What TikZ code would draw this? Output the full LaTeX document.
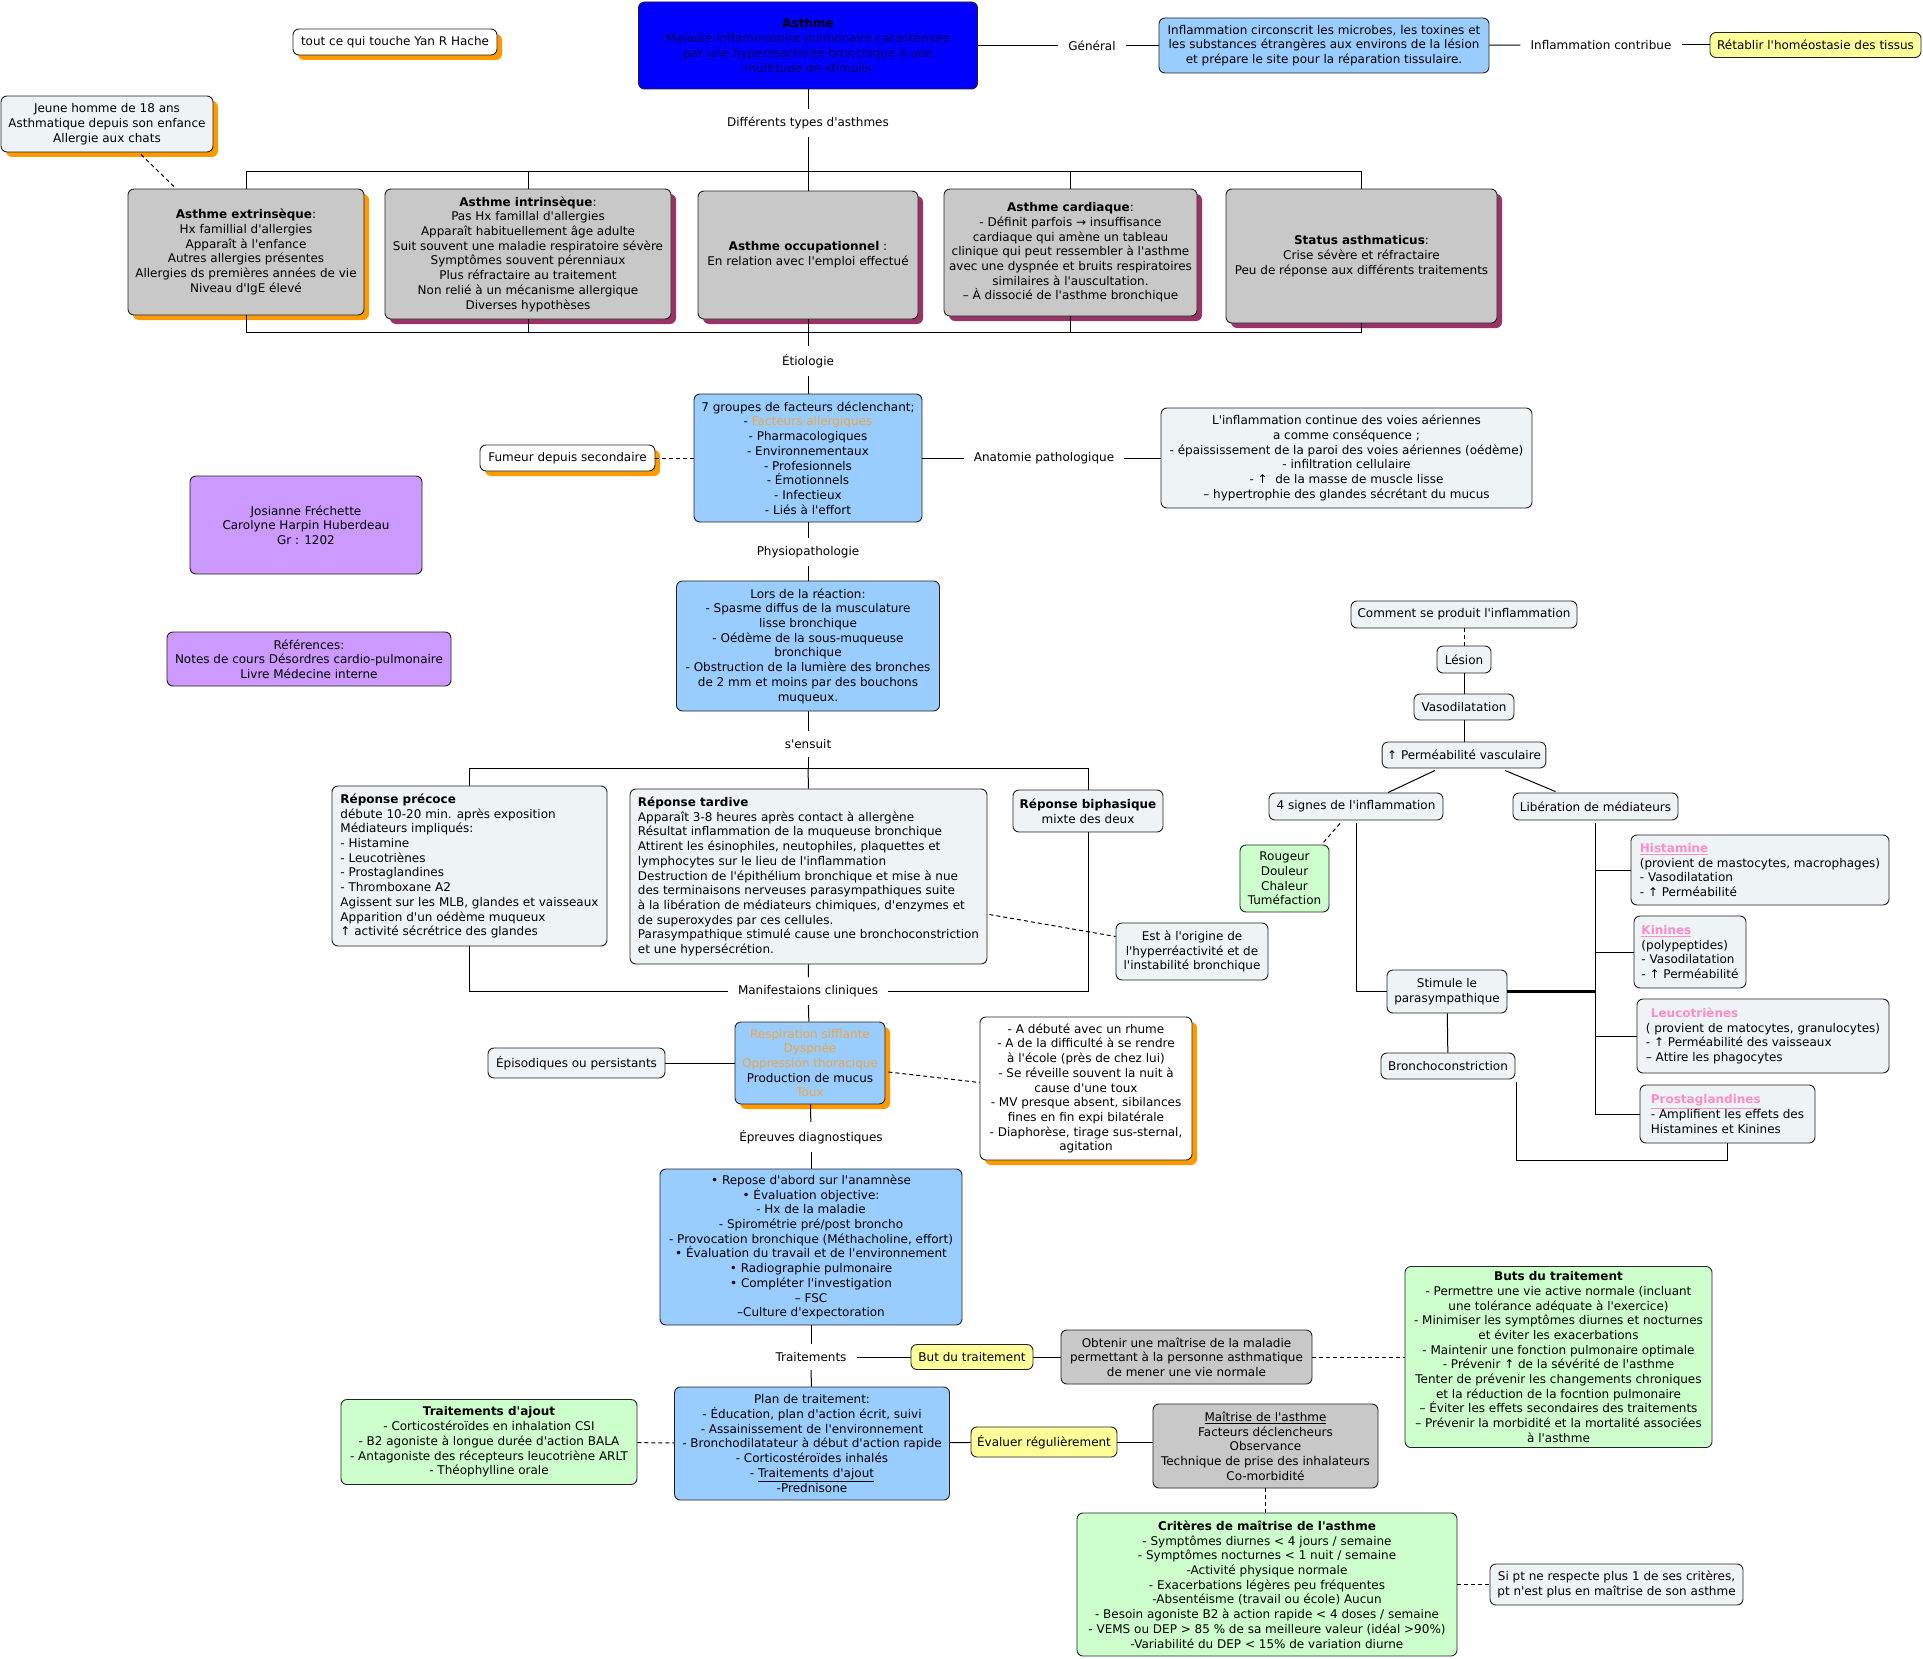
\documentclass[tikz,border=0pt]{standalone}
\usepackage{fontspec}
\setmainfont{DejaVu Sans}[Ligatures=TeXOff]
\usetikzlibrary{shadows,calc}
\definecolor{bluebox}{RGB}{0,0,255}
\definecolor{lblue}{RGB}{153,204,255}
\definecolor{gbox}{RGB}{200,200,200}
\definecolor{pale}{RGB}{238,243,245}
\definecolor{yel}{RGB}{255,255,153}
\definecolor{grn}{RGB}{204,255,204}
\definecolor{purp}{RGB}{204,153,255}
\definecolor{orsh}{RGB}{255,153,0}
\definecolor{push}{RGB}{153,51,102}
\definecolor{ortx}{RGB}{240,165,60}
\definecolor{pktx}{RGB}{255,140,200}
\definecolor{navy}{RGB}{0,0,90}
\definecolor{bord}{RGB}{35,35,35}
\newcommand\fs{\fontsize{12}{14.7}\selectfont}
\newcommand\pk[1]{\textcolor{pktx}{\textbf{\underline{#1}}}}
\newcommand\ot[1]{\textcolor{ortx}{#1}}
\begin{document}
\begin{tikzpicture}[x=1pt,y=-1pt,
  base/.style={font=\fs, align=center, inner sep=5pt},
  box/.style={base, draw=bord, line width=0.9pt, rounded corners=6pt},
  wh/.style 2 args={minimum width=#1pt, minimum height=#2pt},
  lt/.style={align=left},
  osh/.style={drop shadow={shadow xshift=5pt,shadow yshift=-5pt,fill=orsh,opacity=1}},
  psh/.style={drop shadow={shadow xshift=5pt,shadow yshift=-5pt,fill=push,opacity=1}},
  lbl/.style={base, inner xsep=10pt, inner ysep=8pt},
  ln/.style={line width=1pt, black},
  dsh/.style={ln, dash pattern=on 4pt off 3pt}]
\fill[white] (0,0) rectangle (1923,1659);
\useasboundingbox (0,0) rectangle (1923,1659);

% ---------- top ----------
\node[box,fill=bluebox,wh={339}{87},text=navy] (asthme) at (808,45.5)
 {\textcolor{black}{\textbf{Asthme}}\\Maladie inflammatoire pulmonaire caractérisée\\par une hyperréactivité bronchique à une\\multitude de stimulis};
\node[box,fill=white,osh,wh={204}{26}] (tout) at (395,42) {tout ce qui touche Yan R Hache};
\node[lbl] (gen) at (1092,45.5) {Général};
\node[box,fill=lblue,wh={330}{55}] (infl) at (1324,45.5)
 {Inflammation circonscrit les microbes, les toxines et\\les substances étrangères aux environs de la lésion\\et prépare le site pour la réparation tissulaire.};
\node[lbl] (contrib) at (1601,45) {Inflammation contribue};
\node[box,fill=yel,wh={211}{25}] (retab) at (1815.5,45) {Rétablir l'homéostasie des tissus};

\node[lbl] (dta) at (808,123) {Différents types d'asthmes};
\coordinate (busT) at (808,172);
\coordinate (busB) at (808,332);

\node[box,fill=pale,osh,wh={212}{56}] (jeune) at (107,124)
 {Jeune homme de 18 ans\\Asthmatique depuis son enfance\\Allergie aux chats};

\node[box,fill=gbox,osh,wh={236}{126}] (ext) at (246,252)
 {\textbf{Asthme extrinsèque}:\\Hx famillial d'allergies\\Apparaît à l'enfance\\Autres allergies présentes\\Allergies ds premières années de vie\\Niveau d'IgE élevé};
\node[box,fill=gbox,psh,wh={286}{130}] (intr) at (528,254)
 {\textbf{Asthme intrinsèque}:\\Pas Hx famillal d'allergies\\Apparaît habituellement âge adulte\\Suit souvent une maladie respiratoire sévère\\Symptômes souvent pérenniaux\\Plus réfractaire au traitement\\Non relié à un mécanisme allergique\\Diverses hypothèses};
\node[box,fill=gbox,psh,wh={220}{128}] (occ) at (808,255)
 {\textbf{Asthme occupationnel} :\\En relation avec l'emploi effectué};
\node[box,fill=gbox,psh,wh={253}{127}] (card) at (1070.5,252.5)
 {\textbf{Asthme cardiaque}:\\- Définit parfois → insuffisance\\cardiaque qui amène un tableau\\clinique qui peut ressembler à l'asthme\\avec une dyspnée et bruits respiratoires\\similaires à l'auscultation.\\– À dissocié de l'asthme bronchique};
\node[box,fill=gbox,psh,wh={271}{134}] (stat) at (1361.5,256)
 {\textbf{Status asthmaticus}:\\Crise sévère et réfractaire\\Peu de réponse aux différents traitements};

% ---------- etiologie ----------
\node[lbl] (etio) at (808,361) {Étiologie};
\node[box,fill=lblue,wh={228}{128}] (grp7) at (808,458)
 {7 groupes de facteurs déclenchant;\\- \ot{Facteurs allergiques}\\- Pharmacologiques\\- Environnementaux\\- Profesionnels\\- Émotionnels\\- Infectieux\\- Liés à l'effort};
\node[box,fill=white,osh,wh={175}{26}] (fumeur) at (567.5,458) {Fumeur depuis secondaire};
\node[lbl] (anat) at (1044,458) {Anatomie pathologique};
\node[box,fill=pale,wh={371}{100}] (inflc) at (1346.5,458)
 {L'inflammation continue des voies aériennes\\a comme conséquence ;\\- épaississement de la paroi des voies aériennes (oédème)\\- infiltration cellulaire\\- ↑\ \ de la masse de muscle lisse\\– hypertrophie des glandes sécrétant du mucus};

\node[box,fill=purp,wh={232}{98}] (jos) at (306,525)
 {Josianne Fréchette\\Carolyne Harpin Huberdeau\\Gr : 1202};
\node[box,fill=purp,wh={284}{54}] (refs) at (309,659)
 {Références:\\Notes de cours Désordres cardio-pulmonaire\\Livre Médecine interne};

% ---------- physio ----------
\node[lbl] (physio) at (808,552) {Physiopathologie};
\node[box,fill=lblue,wh={263}{130}] (lors) at (808,646)
 {Lors de la réaction:\\- Spasme diffus de la musculature\\lisse bronchique\\- Oédème de la sous-muqueuse\\bronchique\\- Obstruction de la lumière des bronches\\de 2 mm et moins par des bouchons\\muqueux.};
\node[lbl] (sens) at (808,744) {s'ensuit};
\coordinate (busR) at (808,768);

\node[box,fill=pale,lt,wh={275}{160}] (prec) at (469.5,866)
 {\textbf{Réponse précoce}\\débute 10-20 min. après exposition\\Médiateurs impliqués:\\- Histamine\\- Leucotriènes\\- Prostaglandines\\- Thromboxane A2\\Agissent sur les MLB, glandes et vaisseaux\\Apparition d'un oédème muqueux\\↑ activité sécrétrice des glandes};
\node[box,fill=pale,lt,wh={357}{175}] (tard) at (808.5,876.5)
 {\textbf{Réponse tardive}\\Apparaît 3-8 heures après contact à allergène\\Résultat inflammation de la muqueuse bronchique\\Attirent les ésinophiles, neutophiles, plaquettes et\\lymphocytes sur le lieu de l'inflammation\\Destruction de l'épithélium bronchique et mise à nue\\des terminaisons nerveuses parasympathiques suite\\à la libération de médiateurs chimiques, d'enzymes et\\de superoxydes par ces cellules.\\Parasympathique stimulé cause une bronchoconstriction\\et une hypersécrétion.};
\node[box,fill=pale,wh={150}{42}] (biph) at (1088,811)
 {\textbf{Réponse biphasique}\\mixte des deux};
\node[box,fill=pale,wh={152}{57}] (orig) at (1192,951.5)
 {Est à l'origine de\\l'hyperréactivité et de\\l'instabilité bronchique};

% ---------- manifestations ----------
\node[lbl] (manif) at (808,991) {Manifestaions cliniques};
\node[box,fill=lblue,osh,wh={150}{82}] (symp) at (810,1063)
 {\ot{Respiration sifflante}\\\ot{Dyspnée}\\\ot{Oppression thoracique}\\Production de mucus\\\ot{Toux}};
\node[box,fill=pale,wh={177}{30}] (epis) at (576.5,1063) {Épisodiques ou persistants};
\node[box,fill=white,osh,wh={212}{143}] (cas) at (1086,1088.5)
 {- A débuté avec un rhume\\- A de la difficulté à se rendre\\à l'école (près de chez lui)\\- Se réveille souvent la nuit à\\cause d'une toux\\- MV presque absent, sibilances\\fines en fin expi bilatérale\\- Diaphorèse, tirage sus-sternal,\\agitation};

% ---------- diagnostics / traitements ----------
\node[lbl] (epr) at (811,1137) {Épreuves diagnostiques};
\node[box,fill=lblue,wh={302}{156}] (diag) at (811,1247)
 {• Repose d'abord sur l'anamnèse\\• Évaluation objective:\\- Hx de la maladie\\- Spirométrie pré/post broncho\\- Provocation bronchique (Méthacholine, effort)\\• Évaluation du travail et de l'environnement\\• Radiographie pulmonaire\\• Compléter l'investigation\\– FSC\\–Culture d'expectoration};
\node[lbl] (trait) at (811,1357) {Traitements};
\node[box,fill=yel,wh={122}{25}] (but) at (972,1357) {But du traitement};
\node[box,fill=gbox,wh={251}{54}] (obt) at (1186.5,1357)
 {Obtenir une maîtrise de la maladie\\permettant à la personne asthmatique\\de mener une vie normale};
\node[box,fill=grn,wh={307}{181}] (buts) at (1558.5,1357)
 {\textbf{Buts du traitement}\\- Permettre une vie active normale (incluant\\une tolérance adéquate à l'exercice)\\- Minimiser les symptômes diurnes et nocturnes\\et éviter les exacerbations\\- Maintenir une fonction pulmonaire optimale\\- Prévenir ↑ de la sévérité de l'asthme\\Tenter de prévenir les changements chroniques\\et la réduction de la focntion pulmonaire\\– Éviter les effets secondaires des traitements\\– Prévenir la morbidité et la mortalité associées\\à l'asthme};
\node[box,fill=lblue,wh={275}{113}] (plan) at (812,1443.5)
 {Plan de traitement:\\- Éducation, plan d'action écrit, suivi\\- Assainissement de l'environnement\\- Bronchodilatateur à début d'action rapide\\- Corticostéroïdes inhalés\\- \underline{Traitements d'ajout}\\-Prednisone};
\node[box,fill=grn,wh={296}{85}] (ajout) at (489,1442)
 {\textbf{Traitements d'ajout}\\- Corticostéroïdes en inhalation CSI\\- B2 agoniste à longue durée d'action BALA\\- Antagoniste des récepteurs leucotriène ARLT\\- Théophylline orale};
\node[box,fill=yel,wh={146}{30}] (eval) at (1044,1442) {Évaluer régulièrement};
\node[box,fill=gbox,wh={225}{84}] (mait) at (1265.5,1446)
 {\underline{Maîtrise de l'asthme}\\Facteurs déclencheurs\\Observance\\Technique de prise des inhalateurs\\Co-morbidité};
\node[box,fill=grn,wh={380}{143}] (crit) at (1267,1584.5)
 {\textbf{Critères de maîtrise de l'asthme}\\- Symptômes diurnes < 4 jours / semaine\\- Symptômes nocturnes < 1 nuit / semaine\\-Activité physique normale\\- Exacerbations légères peu fréquentes\\-Absentéisme (travail ou école) Aucun\\- Besoin agoniste B2 à action rapide < 4 doses / semaine\\- VEMS ou DEP > 85 \% de sa meilleure valeur (idéal >90\%)\\-Variabilité du DEP < 15\% de variation diurne};
\node[box,fill=pale,wh={253}{41}] (sipt) at (1616.5,1584.5)
 {Si pt ne respecte plus 1 de ses critères,\\pt n'est plus en maîtrise de son asthme};

% ---------- inflammation chain ----------
\node[box,fill=pale,wh={226}{27}] (comment) at (1464,614.5) {Comment se produit l'inflammation};
\node[box,fill=pale,wh={54}{27}] (lesion) at (1464,659.5) {Lésion};
\node[box,fill=pale,wh={100}{26}] (vaso) at (1464,707) {Vasodilatation};
\node[box,fill=pale,wh={162}{26}] (perm) at (1464,755) {↑ Perméabilité vasculaire};
\node[box,fill=pale,wh={174}{27}] (signes) at (1356,806.5) {4 signes de l'inflammation};
\node[box,fill=pale,wh={165}{27}] (liber) at (1595.5,806.5) {Libération de médiateurs};
\node[box,fill=grn,wh={89}{67}] (roug) at (1284.5,878.5) {Rougeur\\Douleur\\Chaleur\\Tuméfaction};
\node[box,fill=pale,wh={120}{43}] (stim) at (1447,991.5) {Stimule le\\parasympathique};
\node[box,fill=pale,wh={134}{26}] (bronc) at (1448,1066) {Bronchoconstriction};
\node[box,fill=pale,lt,wh={258}{70}] (hist) at (1760,870)
 {\pk{Histamine}\\(provient de mastocytes, macrophages)\\- Vasodilatation\\- ↑ Perméabilité};
\node[box,fill=pale,lt,wh={112}{72}] (kin) at (1690,952)
 {\pk{Kinines}\\(polypeptides)\\- Vasodilatation\\- ↑ Perméabilité};
\node[box,fill=pale,lt,wh={252}{74}] (leuc) at (1763,1036)
 {\hspace*{5pt}\textcolor{pktx}{\textbf{Leucotriènes}}\\( provient de matocytes, granulocytes)\\- ↑ Perméabilité des vaisseaux\\– Attire les phagocytes};
\node[box,fill=pale,lt,wh={175}{58}] (prost) at (1727.5,1114)
 {\pk{Prostaglandines}\\- Amplifient les effets des\\Histamines et Kinines};

% ---------- connectors ----------
\draw[ln] (asthme) -- (gen);
\draw[ln] (gen) -- (infl);
\draw[ln] (infl) -- (contrib);
\draw[ln] (contrib) -- (retab);
\draw[ln] (asthme) -- (dta);
\draw[ln] (dta) -- (busT);
\draw[ln] (busT) -| (ext.north);
\draw[ln] (busT) -| (intr.north);
\draw[ln] (busT) -- (occ.north);
\draw[ln] (busT) -| (card.north);
\draw[ln] (busT) -| (stat.north);
\draw[dsh] ($(jeune.south)+(34,2)$) -- ($(ext.north)+(-71,-1)$);
\draw[ln] (ext.south) |- (busB);
\draw[ln] (intr.south) |- (busB);
\draw[ln] (card.south) |- (busB);
\draw[ln] (stat.south) |- (busB);
\draw[ln] (occ.south) -- (etio);
\draw[ln] (etio) -- (grp7);
\draw[dsh] (fumeur) -- (grp7);
\draw[ln] (grp7) -- (anat);
\draw[ln] (anat) -- (inflc);
\draw[ln] (grp7) -- (physio);
\draw[ln] (physio) -- (lors);
\draw[ln] (lors) -- (sens);
\draw[ln] (sens) -- (busR);
\draw[ln] (busR) -| (prec.north);
\draw[ln] (busR) -- (tard.north);
\draw[ln] (busR) -| (biph.north);
\draw[ln] (prec.south) |- (manif.west);
\draw[ln] (tard.south) -- (manif);
\draw[ln] (biph.south) |- (manif.east);
\draw[dsh] ($(tard.east)+(2,38)$) -- ($(orig.west)+(0,-15)$);
\draw[ln] (manif) -- (symp);
\draw[ln] (epis) -- (symp);
\draw[dsh] ($(symp.east)+(3,9)$) -- ($(cas.west)+(0,-6)$);
\draw[ln] (symp) -- (epr);
\draw[ln] (epr) -- (diag);
\draw[ln] (diag) -- (trait);
\draw[ln] (trait) -- (plan);
\draw[ln] (trait) -- (but);
\draw[ln] (but) -- (obt);
\draw[dsh] (obt) -- (buts);
\draw[dsh] (ajout) -- (plan);
\draw[ln] (plan) -- (eval);
\draw[ln] (eval.east) -- (eval.east -| mait.west);
\draw[dsh] (mait.south) -- (mait.south |- crit.north);
\draw[dsh] (crit) -- (sipt);

\draw[dsh] (comment) -- (lesion);
\draw[ln] (lesion) -- (vaso);
\draw[ln] (vaso) -- (perm);
\draw[ln] ($(perm.south)+(-29,2)$) -- ($(signes.north)+(32,0)$);
\draw[ln] ($(perm.south)+(41,2)$) -- ($(liber.north)+(-40,-1)$);
\draw[dsh] ($(signes.south)+(-16,3)$) -- ($(roug.north)+(38,-1)$);
\draw[ln] ($(signes.south)+(0,3)$) |- (stim.west);
\draw[ln] (stim) -- (bronc);
\draw[ln] ($(bronc.south east)+(1,3)$) |- ($(prost.south)+(0,17)$) -- (prost.south);
\draw[ln] ($(liber.south)+(0,3)$) |- (prost.west);
\draw[ln] ($(liber.south)+(0,3)$) |- (hist.west);
\draw[ln] ($(liber.south)+(0,3)$) |- (kin.west);
\draw[ln] ($(liber.south)+(0,3)$) |- (leuc.west);
\draw[line width=2.2pt] (stim.east) -- (stim.east -| liber.south);
\end{tikzpicture}
\end{document}
